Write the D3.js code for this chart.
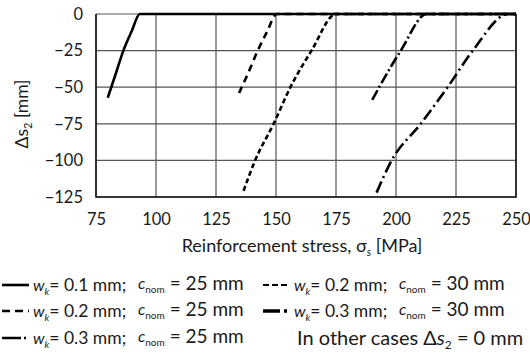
<!DOCTYPE html>
<html>
<head>
<meta charset="utf-8">
<script src="https://d3js.org/d3.v7.min.js"></script>
<style>
  body { margin: 0; background: #fff; }
  svg { display: block; font-family: Lato, "Open Sans", sans-serif; }
</style>
</head>
<body>
<svg width="530" height="358"></svg>
<script>
// values: stress [MPa] and delta s2 [mm]
const s1Stress = [79.9, 83.2, 86.4, 89.8, 93.3, 250];
const s1Delta  = [-57.2, -41, -25, -12, 0, 0];
const s2Stress = [134.6, 138.5, 142.4, 146.3, 150.3, 250];
const s2Delta  = [-54, -40, -25, -12, 0, 0];
const s3Stress = [136.5, 141.3, 149, 156, 164.8, 175, 250];
const s3Delta  = [-120.7, -100, -75, -50, -25, 0, 0];
const s4Stress = [190.1, 193, 202, 212.8, 250];
const s4Delta  = [-58.7, -50, -25, 0, 0];
const s5Stress = [191.9, 198.2, 210.3, 221.5, 232, 246.8, 250];
const s5Delta  = [-122, -100, -75, -50, -25, 0, 0];

const xTicks = [75, 100, 125, 150, 175, 200, 225, 250];
const yTicks = [0, -25, -50, -75, -100, -125];

// legend order: left column then right column
const wkValues   = ['0.1', '0.2', '0.3', '0.2', '0.3'];
const cnomValues = ['25', '25', '25', '30', '30'];

let svg = d3.select('svg');
let margin = { top: 14, left: 96, right: 14, bottom: 161 };
let innerWidth = 530 - margin.left - margin.right;
let innerHeight = 358 - margin.top - margin.bottom;

let g = svg.append('g').attr('transform', `translate(${margin.left},${margin.top})`);

let xScale = d3.scaleLinear().domain([75, 250]).range([0, innerWidth]);
let yScale = d3.scaleLinear().domain([-125, 0]).range([innerHeight, 0]);

// grid
g.selectAll('.vgrid').data(xTicks).join('line')
  .attr('x1', d => xScale(d)).attr('x2', d => xScale(d))
  .attr('y1', 0).attr('y2', innerHeight)
  .style('stroke', '#555').style('stroke-width', 1.2);
g.selectAll('.hgrid').data(yTicks).join('line')
  .attr('x1', 0).attr('x2', innerWidth)
  .attr('y1', d => yScale(d)).attr('y2', d => yScale(d))
  .style('stroke', '#555').style('stroke-width', 1.2);

// frame: left, bottom, right
g.append('path')
  .attr('d', `M0,0V${innerHeight}H${innerWidth}V0`)
  .style('fill', 'none').style('stroke', '#111').style('stroke-width', 1.5);

// axes (labels only)
let yAxis = g.append('g').call(d3.axisLeft(yScale).tickValues(yTicks).tickSize(0).tickPadding(13)
  .tickFormat(d => d3.format('')(d).replace('-', '\u2212')));
let xAxis = g.append('g').attr('transform', `translate(0,${innerHeight})`)
  .call(d3.axisBottom(xScale).tickValues(xTicks).tickSize(0).tickPadding(16));
[yAxis, xAxis].forEach(a => {
  a.select('.domain').remove();
  a.selectAll('text').style('font-family', 'Lato, sans-serif').style('font-size', '16.5px').style('fill', '#1a1a1a');
});

// lines, dash style per legend entry
const lineDash = [null, '7,5', '11,3,2,3', '5,3', '12,4,2,4'];
const allSeries = [
  [s1Stress, s1Delta], [s2Stress, s2Delta], [s4Stress, s4Delta], [s3Stress, s3Delta], [s5Stress, s5Delta]
];
let line = d3.line().x(d => xScale(d[0])).y(d => yScale(d[1])).curve(d3.curveMonotoneX);
allSeries.forEach((s, i) => {
  let pts = s[0].map((v, j) => [v, s[1][j]]);
  g.append('path')
    .datum(pts)
    .attr('d', line)
    .style('fill', 'none')
    .style('stroke', '#000')
    .style('stroke-width', 2.6)
    .style('stroke-dasharray', lineDash[i]);
});

// axis titles
let xt = svg.append('text').attr('x', 302).attr('y', 252).attr('text-anchor', 'middle')
  .style('font-size', '18px').style('fill', '#1a1a1a');
xt.append('tspan').text('Reinforcement stress, ');
xt.append('tspan').text('\u03c3');
xt.append('tspan').attr('dy', 4).style('font-size', '11px').style('font-style', 'italic').text('s');
xt.append('tspan').attr('dy', -4).text(' [MPa]');

let yt = svg.append('text').attr('transform', 'translate(28,114) rotate(-90)').attr('text-anchor', 'middle')
  .style('font-size', '17.5px').style('fill', '#1a1a1a');
yt.append('tspan').text('\u0394s');
yt.append('tspan').attr('dy', 4).style('font-size', '11px').text('2');
yt.append('tspan').attr('dy', -4).text(' [mm]');

// legend
const legendPos = [
  { x: 2, y: 285 }, { x: 2, y: 311 }, { x: 2, y: 338 }, { x: 263, y: 285 }, { x: 263, y: 311 }
];
const legendDash = [null, '8,5', '19,3,2,10', '6,3', '17,4,3,10'];
const legendWidth = [2.6, 2.6, 2.6, 2.2, 3.6];
legendPos.forEach((p, i) => {
  let lg = svg.append('g').attr('transform', `translate(${p.x},${p.y})`);
  lg.append('line').attr('x1', 0).attr('x2', 27).attr('y1', 0).attr('y2', 0)
    .style('stroke', '#000').style('stroke-width', legendWidth[i])
    .style('stroke-dasharray', legendDash[i]);
  let t = lg.append('text').attr('x', 31).attr('y', 6)
    .style('font-size', '17.5px').style('fill', '#1a1a1a');
  t.append('tspan').style('font-style', 'italic').style('font-size', '16px').text('w');
  t.append('tspan').attr('dy', 4).style('font-style', 'italic').style('font-size', '10px').text('k');
  t.append('tspan').attr('dy', -4).text(`= ${wkValues[i]} mm;`);
  let c = lg.append('text').attr('x', 136).attr('y', 5)
    .style('font-size', '19px').style('fill', '#1a1a1a');
  c.append('tspan').style('font-style', 'italic').style('font-size', '16px').attr('dy', -1).text('c');
  c.append('tspan').attr('dy', 4).style('font-size', '10px').text('nom');
  c.append('tspan').attr('dy', -3).text(` = ${cnomValues[i]} mm`);
});

let note = svg.append('text').attr('x', 297).attr('y', 345)
  .style('font-size', '20px').style('fill', '#1a1a1a');
note.append('tspan').text('In other cases \u0394');
note.append('tspan').style('font-style', 'italic').text('s');
note.append('tspan').attr('dy', 4).style('font-size', '12px').text('2');
note.append('tspan').attr('dy', -4).text(' = 0 mm');
</script>
</body>
</html>
